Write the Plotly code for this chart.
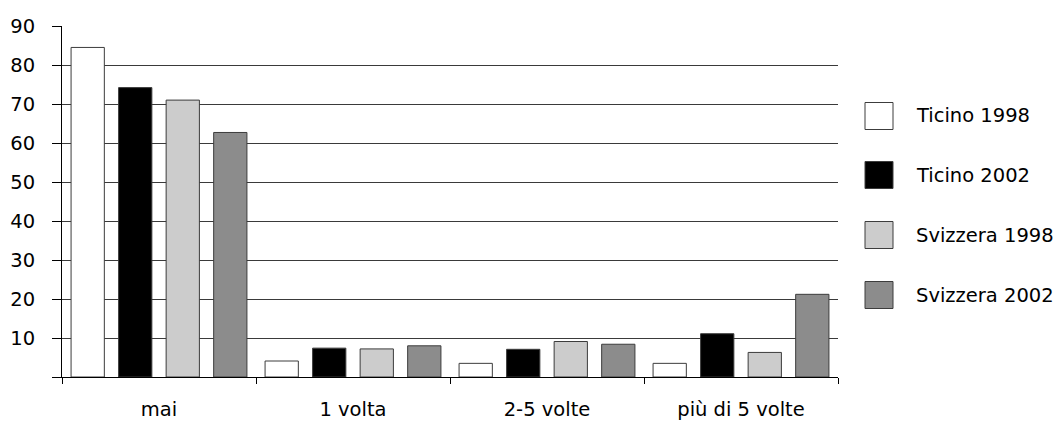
import plotly.graph_objects as go

# Survey answers grouped by frequency, one series per region/year
categories = ["mai", "1 volta", "2-5 volte", "più di 5 volte"]
series_names = ["Ticino 1998", "Ticino 2002", "Svizzera 1998", "Svizzera 2002"]
ticino_1998 = [84.5, 4.1, 3.5, 3.5]
ticino_2002 = [74.2, 7.4, 7.1, 11.1]
svizzera_1998 = [71.0, 7.2, 9.1, 6.3]
svizzera_2002 = [62.7, 8.0, 8.4, 21.2]
y_ticks = [0, 10, 20, 30, 40, 50, 60, 70, 80, 90]
y_tick_labels = ["", "10", "20", "30", "40", "50", "60", "70", "80", "90"]

fill_colors = ["#ffffff", "#000000", "#cccccc", "#8c8c8c"]
outline_color = "#3c3c3c"
font_family = "DejaVu Sans, Liberation Sans, sans-serif"
font_size = 19.5

W, H = 1061, 421
M_L, M_R, M_T, M_B = 62, 223, 26, 44
plot_w = W - M_L - M_R
plot_h = H - M_T - M_B


def px_to_paper_x(px):
    return (px - M_L) / plot_w


def px_to_paper_y(py):
    return (H - M_B - py) / plot_h


fig = go.Figure()
all_values = [ticino_1998, ticino_2002, svizzera_1998, svizzera_2002]
for name, vals, col in zip(series_names, all_values, fill_colors):
    fig.add_trace(go.Bar(
        x=categories, y=vals, name=name,
        marker=dict(color=col, line=dict(color=outline_color, width=1)),
        showlegend=False,
    ))

# Hand-drawn legend with large square swatches
legend_centers = [116, 175, 235, 295]
shapes = []
annotations = []
for name, col, cy in zip(series_names, fill_colors, legend_centers):
    shapes.append(dict(
        type="rect", xref="paper", yref="paper",
        x0=px_to_paper_x(865), x1=px_to_paper_x(893),
        y0=px_to_paper_y(cy + 13.5), y1=px_to_paper_y(cy - 13.5),
        fillcolor=col, line=dict(color=outline_color, width=1),
    ))
    annotations.append(dict(
        xref="paper", yref="paper", x=px_to_paper_x(914), y=px_to_paper_y(cy),
        xanchor="left", yanchor="middle", text=name, showarrow=False,
        font=dict(family=font_family, size=font_size, color="#000000"),
    ))

fig.update_layout(
    width=W, height=H,
    margin=dict(l=M_L, r=M_R, t=M_T, b=M_B, pad=0),
    paper_bgcolor="#ffffff", plot_bgcolor="#ffffff",
    barmode="group", bargap=0.02, bargroupgap=0.3,
    shapes=shapes, annotations=annotations,
    font=dict(family=font_family, size=font_size, color="#000000"),
    xaxis=dict(
        type="category", showgrid=False, showline=True, linecolor="#000000", linewidth=1,
        ticks="outside", tickson="boundaries", ticklen=6, tickcolor="#000000",
        ticklabelstandoff=15, tickfont=dict(size=font_size), zeroline=False,
        automargin=False,
    ),
    yaxis=dict(
        range=[0, 90], tickvals=y_ticks, ticktext=y_tick_labels,
        showgrid=True, gridcolor="#3a3a3a", gridwidth=1,
        showline=True, linecolor="#000000", linewidth=1,
        ticks="outside", ticklen=9, tickcolor="#000000",
        ticklabelstandoff=13, tickfont=dict(size=font_size), zeroline=False,
        automargin=False,
    ),
)

fig.write_html("out.html")
